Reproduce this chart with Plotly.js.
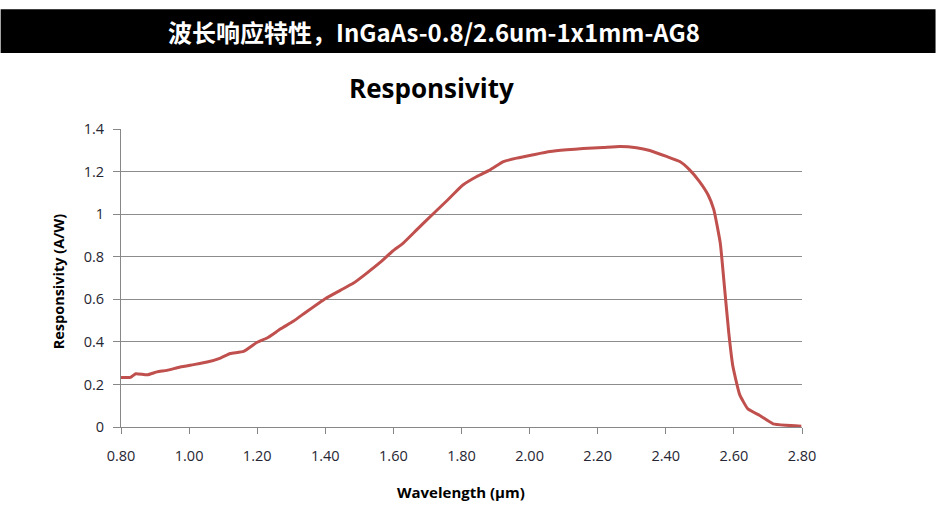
<!DOCTYPE html>
<html>
<head>
<meta charset="utf-8">
<script src="https://cdn.plot.ly/plotly-3.0.1.min.js"></script>
<style>
html,body{margin:0;padding:0;background:#fff;}
#chart{width:936px;height:521px;}
</style>
</head>
<body>
<div id="chart"></div>
<script>
// Data
const wavelength = [0.80,0.828,0.843,0.877,0.906,0.935,0.974,1.013,1.053,1.092,1.121,1.16,1.2,1.229,1.268,1.307,1.346,1.40,1.444,1.483,1.522,1.561,1.598,1.629,1.669,1.717,1.757,1.794,1.805,1.845,1.884,1.923,1.962,2.011,2.06,2.109,2.157,2.216,2.265,2.314,2.353,2.402,2.441,2.47,2.499,2.524,2.541,2.56,2.573,2.585,2.597,2.617,2.641,2.676,2.715,2.753,2.798];
const responsivity = [0.233,0.233,0.25,0.245,0.259,0.266,0.282,0.293,0.305,0.324,0.345,0.355,0.398,0.418,0.46,0.498,0.543,0.603,0.642,0.676,0.723,0.773,0.827,0.864,0.927,1.002,1.063,1.122,1.138,1.177,1.208,1.247,1.263,1.279,1.294,1.302,1.308,1.313,1.318,1.312,1.299,1.271,1.247,1.208,1.153,1.091,1.021,0.864,0.645,0.442,0.285,0.152,0.085,0.054,0.015,0.008,0.004];
const xTickVals = [0.8,1.0,1.2,1.4,1.6,1.8,2.0,2.2,2.4,2.6,2.8];
const xTickText = ["0.80","1.00","1.20","1.40","1.60","1.80","2.00","2.20","2.40","2.60","2.80"];
const yTickVals = [0,0.2,0.4,0.6,0.8,1,1.2,1.4];
const yTickText = ["0","0.2","0.4","0.6","0.8","1","1.2","1.4"];
const headerText = "波长响应特性，InGaAs-0.8/2.6um-1x1mm-AG8";
const chartTitle = "Responsivity";
const xTitle = "Wavelength (µm)";
const yTitle = "Responsivity (A/W)";

// plot-area geometry in pixels
const W = 936, H = 521;
const L = 120.5, R = 802.3, T = 129, B = 427.4;
const pw = R - L, ph = B - T;
const px = X => (X - L) / pw;
const py = Y => (B - Y) / ph;

const trace = {
  x: wavelength, y: responsivity, type: 'scatter', mode: 'lines',
  line: {color: '#C0504D', width: 3, shape: 'spline', smoothing: 0.4}, hoverinfo: 'skip'
};

const tickFont = {family: 'Open Sans, Lato, sans-serif', size: 14.5, color: '#262633'};

const layout = {
  width: W, height: H,
  margin: {l: L, r: W - R, t: T, b: H - B, pad: 0},
  paper_bgcolor: '#ffffff', plot_bgcolor: '#ffffff',
  showlegend: false,
  xaxis: {
    range: [0.8, 2.8], tickvals: xTickVals, ticktext: xTickText,
    showgrid: false, zeroline: false, showline: true, linecolor: '#878787', linewidth: 1,
    ticks: 'outside', ticklen: 6, tickcolor: '#878787', tickwidth: 1,
    ticklabelstandoff: 10,
    tickfont: tickFont, fixedrange: true
  },
  yaxis: {
    range: [0, 1.4], tickvals: yTickVals, ticktext: yTickText,
    showgrid: true, gridcolor: '#8c8c8c', gridwidth: 1, zeroline: false,
    showline: true, linecolor: '#878787', linewidth: 1,
    ticks: 'outside', ticklen: 7, tickcolor: '#878787', tickwidth: 1,
    ticklabelstandoff: 6,
    tickfont: tickFont, fixedrange: true
  },
  shapes: [
    {type: 'rect', xref: 'paper', yref: 'paper', x0: px(0), x1: px(W), y0: py(53), y1: py(9),
     fillcolor: '#000000', line: {width: 0}, layer: 'below'}
  ],
  annotations: [
    {text: '<b>' + headerText + '</b>', xref: 'paper', yref: 'paper', x: px(434), y: py(31),
     xanchor: 'center', yanchor: 'middle', showarrow: false,
     font: {family: 'Noto Sans CJK SC, sans-serif', size: 24, color: '#ffffff'}},
    {text: '<b>' + chartTitle + '</b>', xref: 'paper', yref: 'paper', x: px(431), y: py(88),
     xanchor: 'center', yanchor: 'middle', showarrow: false,
     font: {family: 'Open Sans, Lato, sans-serif', size: 26, color: '#000000'}},
    {text: '<b>' + xTitle + '</b>', xref: 'paper', yref: 'paper', x: px(461), y: py(492),
     xanchor: 'center', yanchor: 'middle', showarrow: false,
     font: {family: 'Open Sans, Lato, sans-serif', size: 15, color: '#000000'}},
    {text: '<b>' + yTitle + '</b>', xref: 'paper', yref: 'paper', x: px(58), y: py(282),
     xanchor: 'center', yanchor: 'middle', showarrow: false, textangle: -90,
     font: {family: 'Open Sans, Lato, sans-serif', size: 14.5, color: '#000000'}}
  ]
};

Plotly.newPlot('chart', [trace], layout, {displayModeBar: false, staticPlot: true});
</script>
</body>
</html>
